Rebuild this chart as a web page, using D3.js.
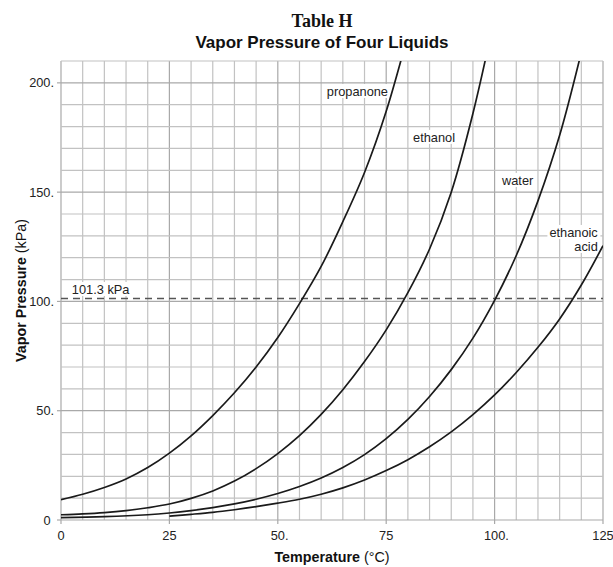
<!DOCTYPE html>
<html>
<head>
<meta charset="utf-8">
<script src="https://cdn.jsdelivr.net/npm/d3@7"></script>
<style>
  html, body { margin: 0; padding: 0; background: #fff; }
  svg { display: block; }
</style>
</head>
<body>
<script>
// ---------- data ----------
const propanoneT = [0, 5, 10, 15, 20, 25, 30, 35, 40, 45, 50, 55, 60, 65, 70, 75, 80];
const propanoneP = [9.3, 11.8, 14.9, 18.8, 24.0, 30.6, 38.5, 47.8, 58.2, 70.0, 83.5, 99.0, 116, 136.5, 159, 187, 222];

const ethanolT = [0, 5, 10, 15, 20, 25, 30, 35, 40, 45, 50, 55, 60, 65, 70, 75, 80, 85, 90, 95, 100];
const ethanolP = [2.4, 2.8, 3.4, 4.3, 5.6, 7.3, 9.9, 13.3, 17.8, 23.5, 30.4, 38.6, 48.3, 59.6, 72.5, 87, 104, 124, 150, 186, 230];

const waterT = [0, 10, 20, 25, 30, 35, 40, 45, 50, 55, 60, 65, 70, 75, 80, 85, 90, 95, 100, 105, 110, 115, 120];
const waterP = [1.1, 1.5, 2.4, 3.2, 4.3, 5.7, 7.4, 9.5, 12.1, 15.3, 19.2, 24.0, 29.9, 37.2, 46.0, 56.5, 68.8, 83.2, 100.5, 121, 146, 176, 214];

const ethanoicT = [25, 30, 35, 40, 45, 50, 55, 60, 65, 70, 75, 80, 85, 90, 95, 100, 105, 110, 115, 120, 125];
const ethanoicP = [1.8, 2.6, 3.5, 4.7, 6.1, 7.7, 9.5, 11.8, 14.7, 18.3, 22.6, 27.6, 33.5, 40.3, 48.2, 57.2, 67.5, 79, 92, 107.5, 125.5];

const xTickValues = [0, 25, 50, 75, 100, 125];
const xTickLabels = ["0", "25", "50.", "75", "100.", "125"];
const yTickValues = [0, 50, 100, 150, 200];
const yTickLabels = ["0", "50.", "100.", "150.", "200."];
const referencePressure = 101.3;

const seriesNames = ["propanone", "ethanol", "water", "ethanoic acid"];

// ---------- layout ----------
const W = 613, H = 567;
const margin = { left: 61, right: 10, top: 61, bottom: 47 };
const sans = "'Liberation Sans', Arial, Helvetica, sans-serif";

const svg = d3.select("body").append("svg").attr("width", W).attr("height", H);

const x = d3.scaleLinear().domain([0, 125]).range([margin.left, W - margin.right]);
const y = d3.scaleLinear().domain([0, 210]).range([H - margin.bottom, margin.top]);

svg.append("clipPath").attr("id", "plot").append("rect")
  .attr("x", x(0)).attr("y", y(210)).attr("width", x(125) - x(0)).attr("height", y(0) - y(210));

// ---------- grid ----------
const grid = svg.append("g");
grid.selectAll("line.v").data(d3.range(0, 125.01, 5)).join("line")
  .attr("x1", d => x(d)).attr("x2", d => x(d))
  .attr("y1", y(0)).attr("y2", y(210))
  .attr("stroke", d => d % 25 === 0 ? "#a9a9a9" : "#c2c2c2")
  .attr("stroke-width", 1.2);
grid.selectAll("line.h").data(d3.range(0, 210.01, 10)).join("line")
  .attr("x1", x(0)).attr("x2", x(125))
  .attr("y1", d => y(d)).attr("y2", d => y(d))
  .attr("stroke", d => d % 50 === 0 ? "#a9a9a9" : "#c2c2c2")
  .attr("stroke-width", 1.2);

// tick marks outside
grid.selectAll("line.xt").data(xTickValues).join("line")
  .attr("x1", d => x(d)).attr("x2", d => x(d))
  .attr("y1", y(0)).attr("y2", y(0) + 4)
  .attr("stroke", "#a9a9a9").attr("stroke-width", 1.2);
grid.selectAll("line.yt").data(yTickValues).join("line")
  .attr("x1", x(0) - 4).attr("x2", x(0))
  .attr("y1", d => y(d)).attr("y2", d => y(d))
  .attr("stroke", "#a9a9a9").attr("stroke-width", 1.2);

// ---------- tick labels ----------
const fs = 12.8;
const xl = svg.append("g").attr("font-family", sans).attr("font-size", fs).attr("fill", "#222");
xTickValues.forEach((v, i) => {
  const lab = xTickLabels[i];
  const digits = lab.replace(".", "");
  const t = xl.append("text").attr("x", x(v)).attr("y", y(0) + 20).attr("text-anchor", "middle").text(digits);
  if (lab.endsWith(".")) {
    const w = t.node().getComputedTextLength();
    xl.append("text").attr("x", x(v) + w / 2).attr("y", y(0) + 20).text(".");
  }
});
const yl = svg.append("g").attr("font-family", sans).attr("font-size", fs).attr("fill", "#222");
yTickValues.forEach((v, i) => {
  const lab = yTickLabels[i];
  const digits = lab.replace(".", "");
  yl.append("text").attr("x", 50.5).attr("y", y(v)).attr("dy", "0.36em").attr("text-anchor", "end").text(digits);
  if (lab.endsWith(".")) {
    yl.append("text").attr("x", 50.5).attr("y", y(v)).attr("dy", "0.36em").text(".");
  }
});

// ---------- reference dashed line ----------
svg.append("line")
  .attr("x1", x(0)).attr("x2", x(125))
  .attr("y1", y(referencePressure)).attr("y2", y(referencePressure))
  .attr("stroke", "#555").attr("stroke-width", 1.5)
  .attr("stroke-dasharray", "7,5");

// ---------- labels with white boxes (under the curves) ----------
const lg = svg.append("g").attr("font-family", sans).attr("font-size", fs).attr("fill", "#222");
function boxedText(str, tx, ty, anchor) {
  const g = lg.append("g");
  const r = g.append("rect").attr("fill", "#fff");
  const t = g.append("text").attr("x", tx).attr("y", ty).attr("text-anchor", anchor || "start").text(str);
  const b = t.node().getBBox();
  r.attr("x", b.x - 2).attr("y", b.y).attr("width", b.width + 4).attr("height", b.height - 1);
  return g;
}
boxedText(seriesNames[0], x(61.3), y(194));
boxedText(seriesNames[1], x(81.2), y(173));
boxedText(seriesNames[2], x(101.7), y(153.3));
boxedText("ethanoic", x(123.8), y(129.5), "end");
boxedText("acid", x(123.8), y(123.1), "end");
boxedText("101.3 kPa", x(2.5), y(103.4));

// ---------- curves ----------
const line = d3.line().x(d => x(d[0])).y(d => y(d[1])).curve(d3.curveCatmullRom.alpha(0.5));
const series = [
  [propanoneT, propanoneP],
  [ethanolT, ethanolP],
  [waterT, waterP],
  [ethanoicT, ethanoicP]
];
svg.append("g").attr("clip-path", "url(#plot)").selectAll("path").data(series).join("path")
  .attr("d", s => line(d3.zip(s[0], s[1])))
  .attr("fill", "none").attr("stroke", "#1a1a1a").attr("stroke-width", 1.7);

// ---------- titles ----------
svg.append("text").attr("x", 322).attr("y", 26.5).attr("text-anchor", "middle")
  .attr("font-family", "'Liberation Serif', 'Times New Roman', serif")
  .attr("font-weight", "bold").attr("font-size", 18).attr("fill", "#111").text("Table H");
svg.append("text").attr("x", 322).attr("y", 47.5).attr("text-anchor", "middle")
  .attr("font-family", sans).attr("font-weight", "bold").attr("font-size", 17).attr("fill", "#111")
  .text("Vapor Pressure of Four Liquids");

const xt = svg.append("text").attr("x", (x(0) + x(125)) / 2).attr("y", 562).attr("text-anchor", "middle")
  .attr("font-family", sans).attr("font-size", 14.3).attr("fill", "#111");
xt.append("tspan").attr("font-weight", "bold").text("Temperature");
xt.append("tspan").text(" (°C)");

const yt = svg.append("text")
  .attr("transform", `translate(25.5,${(y(0) + y(210)) / 2}) rotate(-90)`)
  .attr("text-anchor", "middle")
  .attr("font-family", sans).attr("font-size", 14.3).attr("fill", "#111");
yt.append("tspan").attr("font-weight", "bold").text("Vapor Pressure");
yt.append("tspan").text(" (kPa)");
</script>
</body>
</html>
